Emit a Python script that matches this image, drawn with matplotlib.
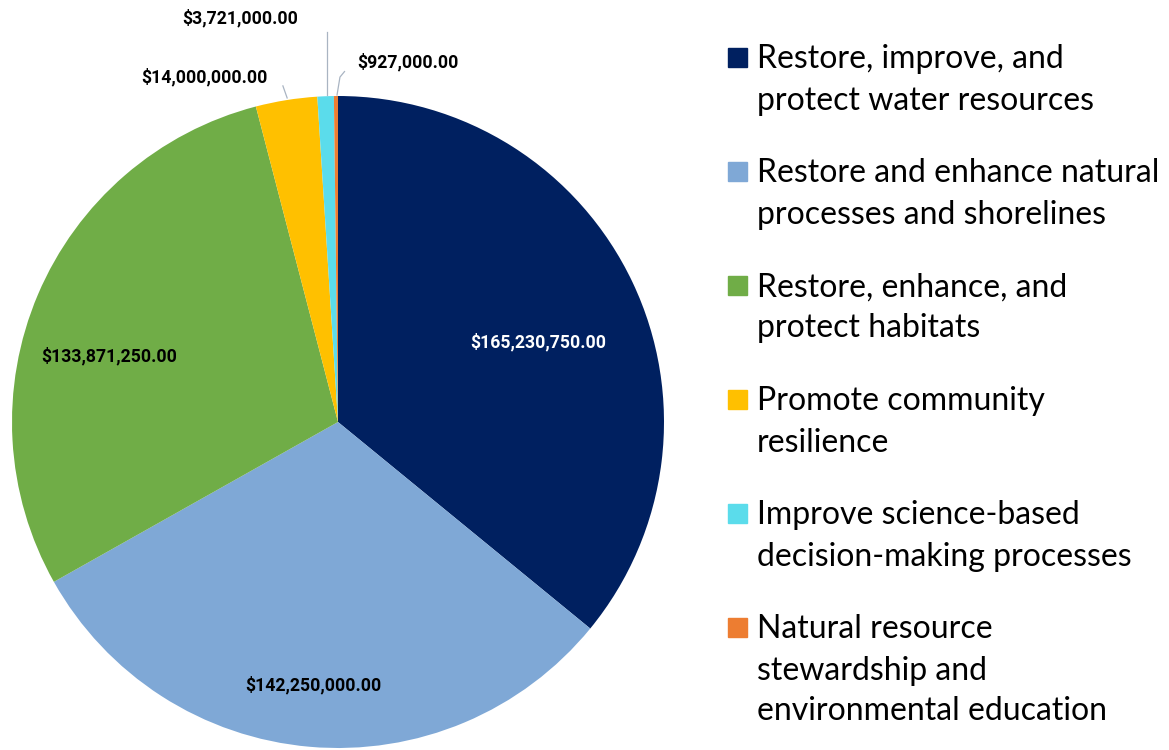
import numpy as np
import matplotlib.pyplot as plt
from matplotlib.patches import Rectangle

categories = ['Restore, improve, and\nprotect water resources',
              'Restore and enhance natural\nprocesses and shorelines',
              'Restore, enhance, and\nprotect habitats',
              'Promote community\nresilience',
              'Improve science-based\ndecision-making processes',
              'Natural resource\nstewardship and\nenvironmental education']
values = [165230750, 142250000, 133871250, 14000000, 3721000, 927000]
colors = ['#002060', '#7FA8D6', '#70AD47', '#FFC000', '#5BDCEB', '#ED7D31']

# label placement (radius, angle offset in degrees) relative to slice middle
lab_r = [0.66, 0.81, 0.73]
lab_da = [-3.7, -0.4, 7.0]
# outside labels: text position in data coords and leader end
out_txt = {3: (-0.41, 1.058), 4: (-0.30, 1.239), 5: (0.215, 1.104)}
out_leader = {3: [(-0.156, 0.994), (-0.169, 1.031)],
              4: [(-0.034, 1.003), (-0.034, 1.196)],
              5: [(-0.003, 1.003), (0.006, 1.058), (0.02, 1.075)]}

W, H = 1169, 750
fig = plt.figure(figsize=(W / 100, H / 100), dpi=100)
cx, cy, R = 338, 422, 326
ax = fig.add_axes([(cx - R) / W, (H - cy - R) / H, 2 * R / W, 2 * R / H])
wedges, _ = ax.pie(values, colors=colors, startangle=90, counterclock=False,
                   wedgeprops=dict(linewidth=0))
ax.set_xlim(-1, 1)
ax.set_ylim(-1, 1)
ax.set_aspect('equal')
ax.axis('off')

lab_font = dict(family=['Roboto', 'Open Sans', 'DejaVu Sans'], fontweight='bold', fontsize=12.7)

def fmt(v):
    return '${:,.2f}'.format(v)

for i, w in enumerate(wedges):
    if i < 3:
        mid = np.deg2rad((w.theta1 + w.theta2) / 2 + lab_da[i])
        x, y = lab_r[i] * np.cos(mid), lab_r[i] * np.sin(mid)
        ax.text(x, y, fmt(values[i]), ha='center', va='center',
                color='white' if i == 0 else 'black', **lab_font)
    else:
        pts = np.array(out_leader[i])
        ax.plot(pts[:, 0], pts[:, 1], color='#A9B4C2', lw=0.9, clip_on=False)
        tx, ty = out_txt[i]
        ax.text(tx, ty, fmt(values[i]), ha='center', va='center', color='black',
                clip_on=False, **lab_font)

# legend drawn by hand, one text per line
leg_font = dict(family=['Lato', 'DejaVu Sans'], fontsize=23, color='black')
y_first = [57, 171, 285, 399, 513, 627]
line_h = 41
for i, lab in enumerate(categories):
    yc = y_first[i]
    fig.patches.append(Rectangle((728 / W, 1 - (yc + 9.5) / H), 19 / W, 19 / H,
                                 transform=fig.transFigure, color=colors[i]))
    for k, line in enumerate(lab.split('\n')):
        base = yc + k * line_h + 11.5
        fig.text(757 / W, 1 - base / H, line, ha='left', va='baseline', **leg_font)

fig.savefig('out.png', dpi=100)
